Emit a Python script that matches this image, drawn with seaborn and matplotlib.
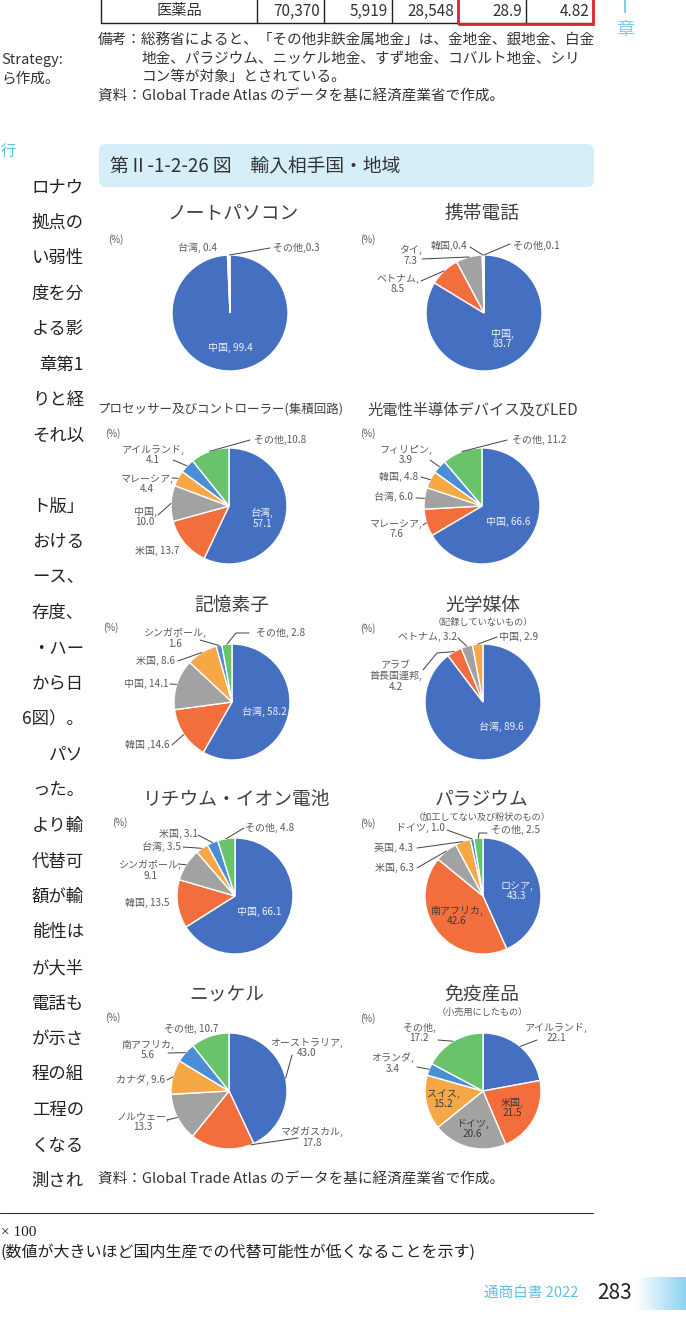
import numpy as np
import matplotlib.pyplot as plt
import seaborn as sns
from matplotlib.patches import FancyBboxPatch, Rectangle
from matplotlib.colors import LinearSegmentedColormap

sns.set_theme(style="white")
plt.rcParams['font.family'] = ['Noto Sans CJK JP', 'DejaVu Sans']

W, H = 686, 1337

# ---- data: import partner shares (%) ----
notebook_names = ["中国", "台湾", "その他"]
notebook_shares = [99.4, 0.4, 0.3]
phone_names = ["中国", "ベトナム", "タイ", "韓国", "その他"]
phone_shares = [83.7, 8.5, 7.3, 0.4, 0.1]
processor_names = ["台湾", "米国", "中国", "マレーシア", "アイルランド", "その他"]
processor_shares = [57.1, 13.7, 10.0, 4.4, 4.1, 10.8]
led_names = ["中国", "マレーシア", "台湾", "韓国", "フィリピン", "その他"]
led_shares = [66.6, 7.6, 6.0, 4.8, 3.9, 11.2]
memory_names = ["台湾", "韓国", "中国", "米国", "シンガポール", "その他"]
memory_shares = [58.2, 14.6, 14.1, 8.6, 1.6, 2.8]
optical_names = ["台湾", "アラブ首長国連邦", "ベトナム", "中国"]
optical_shares = [89.6, 4.2, 3.2, 2.9]
lithium_names = ["中国", "韓国", "シンガポール", "台湾", "米国", "その他"]
lithium_shares = [66.1, 13.5, 9.1, 3.5, 3.1, 4.8]
palladium_names = ["ロシア", "南アフリカ", "米国", "英国", "ドイツ", "その他"]
palladium_shares = [43.3, 42.6, 6.3, 4.3, 1.0, 2.5]
nickel_names = ["オーストラリア", "マダガスカル", "ノルウェー", "カナダ", "南アフリカ", "その他"]
nickel_shares = [43.0, 17.8, 13.3, 9.6, 5.6, 10.7]
vaccine_names = ["アイルランド", "米国", "ドイツ", "スイス", "オランダ", "その他"]
vaccine_shares = [22.1, 21.5, 20.6, 15.2, 3.4, 17.2]

table_cells = ["医薬品", "70,370", "5,919", "28,548", "28.9", "4.82"]

palette = sns.color_palette(["#4570C2", "#F26E3C", "#A2A2A2", "#F7A846", "#4A8ED5", "#68C36B"])
WRAP = {"アラブ首長国連邦": "アラブ\n首長国連邦"}
TONE = {"g": "#595959", "w": "#EEF2FA", "d": "#3A3A3A"}
R = 58

# layout: label (x, y, format, tone, leader points, attach fraction) in page pixels
charts = [
    dict(names=notebook_names, shares=notebook_shares, title="ノートパソコン", sub=None,
         cx=230, cy=313, tx=233, ty=213, ts=13.5, pct=(116, 240),
         labels=[(230, 348, "{n}, {v}", "w", [], .5),
                 (198, 248, "{n}, {v}", "g", [], .5),
                 (296, 248, "{n},{v}", "g", [(270, 248)], .5)]),
    dict(names=phone_names, shares=phone_shares, title="携帯電話", sub=None,
         cx=484, cy=313, tx=482, ty=213, ts=13.5, pct=(368, 240),
         labels=[(502, 339, "{n},\n{v}", "w", [], .5),
                 (398, 284, "{n},\n{v}", "g", [(421, 281)], .5),
                 (410, 255, "{n},\n{v}", "g", [(422, 259)], .5),
                 (449, 246, "{n},{v}", "g", [(470, 247)], .5),
                 (536, 246, "{n},{v}", "g", [(510, 244)], .5)]),
    dict(names=processor_names, shares=processor_shares, title="プロセッサー及びコントローラー(集積回路)", sub=None,
         cx=229, cy=506, tx=220, ty=410, ts=9.0, pct=(113, 434),
         labels=[(262, 518, "{n},\n{v}", "w", [], .5),
                 (157, 551, "{n}, {v}", "g", [], .5),
                 (145, 517, "{n},\n{v}", "g", [(158, 515)], .5),
                 (147, 484, "{n},\n{v}", "g", [(172, 478)], .5),
                 (153, 455, "{n},\n{v}", "g", [(173, 460)], .5),
                 (280, 440, "{n},{v}", "g", [(250, 440)], .5)]),
    dict(names=led_names, shares=led_shares, title="光電性半導体デバイス及びLED", sub=None,
         cx=482, cy=506, tx=473, ty=410, ts=11, pct=(368, 434),
         labels=[(508, 522, "{n}, {v}", "w", [], .5),
                 (396, 529, "{n},\n{v}", "g", [(423, 525)], .5),
                 (393, 497, "{n}, {v}", "g", [(416, 498)], .5),
                 (399, 477, "{n}, {v}", "g", [(421, 477)], .5),
                 (406, 455, "{n},\n{v}", "g", [(430, 460)], .5),
                 (539, 440, "{n}, {v}", "g", [(507, 440)], .5)]),
    dict(names=memory_names, shares=memory_shares, title="記憶素子", sub=None,
         cx=232, cy=702, tx=232, ty=605, ts=13.5, pct=(111, 628),
         labels=[(264, 712, "{n}, {v}", "w", [], .5),
                 (147, 745, "{n} ,{v}", "g", [(172, 745)], .5),
                 (146, 684, "{n}, {v}", "g", [(170, 684)], .5),
                 (156, 661, "{n}, {v}", "g", [(178, 661)], .5),
                 (175, 638, "{n},\n{v}", "g", [(200, 640)], .5),
                 (281, 633, "{n}, {v}", "g", [(236, 633), (249, 633)], .5)]),
    dict(names=optical_names, shares=optical_shares, title="光学媒体", sub="（記録していないもの）",
         cx=483, cy=702, tx=483, ty=605, ts=13.5, pct=(368, 629),
         labels=[(501, 727, "{n}, {v}", "w", [], .5),
                 (396, 676, "{n},\n{v}", "g", [(437, 653), (423, 670)], .5),
                 (427, 637, "{n}, {v}", "g", [(458, 638)], .5),
                 (519, 637, "{n}, {v}", "g", [(497, 637)], .5)]),
    dict(names=lithium_names, shares=lithium_shares, title="リチウム・イオン電池", sub=None,
         cx=235, cy=896, tx=237, ty=800, ts=13.5, pct=(120, 823),
         labels=[(259, 912, "{n}, {v}", "w", [], .5),
                 (147, 903, "{n}, {v}", "g", [], .5),
                 (150, 870, "{n},\n{v}", "g", [(178, 864)], .5),
                 (161, 847, "{n}, {v}", "g", [(183, 847)], .5),
                 (178, 834, "{n}, {v}", "g", [(198, 835)], .5),
                 (270, 828, "{n}, {v}", "g", [(244, 828)], .5)]),
    dict(names=palladium_names, shares=palladium_shares, title="パラジウム", sub="（加工してない及び粉状のもの）",
         cx=483, cy=896, tx=482, ty=800, ts=13.5, pct=(368, 824),
         labels=[(517, 891, "{n},\n{v}", "w", [], .5),
                 (457, 916, "{n},\n{v}", "d", [], .5),
                 (394, 868, "{n}, {v}", "g", [(417, 868)], .5),
                 (394, 848, "{n}, {v}", "g", [(417, 848)], .5),
                 (420, 828, "{n}, {v}", "g", [(447, 830)], .5),
                 (516, 830, "{n}, {v}", "g", [(479, 833), (487, 833)], .5)]),
    dict(names=nickel_names, shares=nickel_shares, title="ニッケル", sub=None,
         cx=229, cy=1091, tx=227, ty=995, ts=13.5, pct=(113, 1018),
         labels=[(307, 1048, "{n},\n{v}", "g", [(292, 1055)], .5),
                 (312, 1137, "{n},\n{v}", "g", [(298, 1138)], .05),
                 (143, 1122, "{n},\n{v}", "g", [(167, 1120)], .5),
                 (140, 1080, "{n}, {v}", "g", [(167, 1080)], .5),
                 (148, 1050, "{n},\n{v}", "g", [(168, 1053)], .5),
                 (191, 1029, "{n}, {v}", "g", [], .5)]),
    dict(names=vaccine_names, shares=vaccine_shares, title="免疫産品", sub="（小売用にしたもの）",
         cx=483, cy=1091, tx=482, ty=995, ts=13.5, pct=(368, 1019),
         labels=[(556, 1033, "{n},\n{v}", "g", [(537, 1040)], .5),
                 (512, 1108, "{n},\n{v}", "d", [], .5),
                 (472, 1129, "{n},\n{v}", "d", [], .5),
                 (443, 1099, "{n},\n{v}", "d", [], .5),
                 (393, 1063, "{n},\n{v}", "g", [(417, 1067)], .5),
                 (419, 1033, "{n},\n{v}", "g", [(438, 1040)], .5)]),
]

left_column = ["ロナウ", "拠点の", "い弱性", "度を分", "よる影", "章第1", "りと経", "それ以", "",
               "ト版」", "おける", "ース、", "存度、", "・ハー", "から日", "6図）。", "パソ", "った。",
               "より輸", "代替可", "額が輸", "能性は", "が大半", "電話も", "が示さ", "程の組",
               "工程の", "くなる", "測され"]

fig = plt.figure(figsize=(W / 100, H / 100), dpi=100)
ax = fig.add_axes([0, 0, 1, 1])

# table fragment at the top
col_edges = [101, 257, 324, 392, 458, 526, 593]
ax.plot([101, 593], [H - 23, H - 23], color="#222222", lw=1)
for xe in col_edges:
    ax.plot([xe, xe], [H + 5, H - 23], color="#222222", lw=1)
for i, cell in enumerate(table_cells):
    if i == 0:
        ax.text((col_edges[0] + col_edges[1]) / 2, H - 11, cell, ha="center", va="center", fontsize=11, color="#333")
    else:
        ax.text(col_edges[i + 1] - 4, H - 11, cell, ha="right", va="center", fontsize=11, color="#333")
ax.add_patch(Rectangle((458, H - 24), 135, 30, fill=False, ec="#E0252B", lw=2, zorder=3))

notes = [(98, 40, "備考：総務省によると、「その他非鉄金属地金」は、金地金、銀地金、白金"),
         (142, 59, "地金、パラジウム、ニッケル地金、すず地金、コバルト地金、シリ"),
         (142, 77, "コン等が対象」とされている。"),
         (98, 97, "資料：Global Trade Atlas のデータを基に経済産業省で作成。")]
for x, y, s in notes:
    ax.text(x, H - y, s, ha="left", va="center", fontsize=10.5, color="#333")

# left column (neighbouring page text)
ax.text(1, H - 60, "Strategy:", ha="left", va="center", fontsize=10.5, color="#333")
ax.text(1, H - 79, "ら作成。", ha="left", va="center", fontsize=10.5, color="#333")
ax.text(1, H - 152, "行", ha="left", va="center", fontsize=11, color="#5BC0E8")
for k, s in enumerate(left_column):
    ax.text(84, H - (187 + 35.5 * k), s, ha="right", va="center", fontsize=12.5, color="#222")

# chapter tab
ax.plot([625, 625], [H, H - 12], color="#7FCDEB", lw=1.5)
ax.text(625, H - 30, "章", ha="center", va="center", fontsize=13, color="#7FCDEB")

# figure title box
ax.add_patch(FancyBboxPatch((99, H - 187), 495, 43, boxstyle="round,pad=0,rounding_size=7",
                            fc="#D6EEF8", ec="none"))
ax.text(110, H - 166, "第Ⅱ-1-2-26 図　輸入相手国・地域", ha="left", va="center", fontsize=13.5, color="#333")

# pies
for c in charts:
    cy = H - c["cy"]
    n = len(c["shares"])
    wedges, _ = ax.pie(c["shares"], colors=palette[:n], startangle=90, counterclock=False,
                       radius=R, center=(c["cx"], cy), frame=True,
                       wedgeprops=dict(edgecolor="white", linewidth=1.0))
    ax.text(c["tx"], H - c["ty"], c["title"], ha="center", va="center", fontsize=c["ts"], color="#404040")
    if c["sub"]:
        ax.text(c["tx"], H - c["ty"] - 17, c["sub"], ha="center", va="center", fontsize=6.6, color="#595959")
    ax.text(c["pct"][0], H - c["pct"][1], "(%)", ha="center", va="center", fontsize=7, color="#595959")
    for name, share, w, lab in zip(c["names"], c["shares"], wedges, c["labels"]):
        x, y, fmt, tone, leader, t = lab
        txt = fmt.format(n=WRAP.get(name, name), v=f"{share:.1f}")
        ax.text(x, H - y, txt, ha="center", va="center", fontsize=7.2, color=TONE[tone],
                linespacing=1.1, multialignment="center")
        if leader:
            ang = np.deg2rad(w.theta2 - t * (w.theta2 - w.theta1))
            xs = [c["cx"] + R * np.cos(ang)] + [p[0] for p in leader]
            ys = [cy + R * np.sin(ang)] + [H - p[1] for p in leader]
            ax.plot(xs, ys, color="#404040", lw=0.7)

# source and footnotes
ax.text(98, H - 1180, "資料：Global Trade Atlas のデータを基に経済産業省で作成。", ha="left", va="center",
        fontsize=10.5, color="#333")
ax.plot([0, 593], [H - 1213, H - 1213], color="#333", lw=0.8)
ax.text(1, H - 1233, "× 100", ha="left", va="center", fontsize=11, color="#222",
        family=["Liberation Serif", "Noto Sans CJK JP"])
ax.text(1, H - 1252, "(数値が大きいほど国内生産での代替可能性が低くなることを示す)", ha="left", va="center",
        fontsize=11.5, color="#222")

# page footer
grad = np.linspace(0, 1, 60).reshape(1, -1)
ax.imshow(grad, extent=[636, 686, H - 1310, H - 1277], aspect="auto", zorder=0,
          cmap=LinearSegmentedColormap.from_list("tab", ["#FFFFFF", "#8DD3F0"]))
ax.text(578, H - 1293, "通商白書 2022", ha="right", va="center", fontsize=10.5, color="#5BC0E8")
ax.text(597, H - 1293, "283", ha="left", va="center", fontsize=15, color="#222")

ax.set_xlim(0, W)
ax.set_ylim(0, H)
ax.axis("off")
fig.savefig("out.png", dpi=100)
